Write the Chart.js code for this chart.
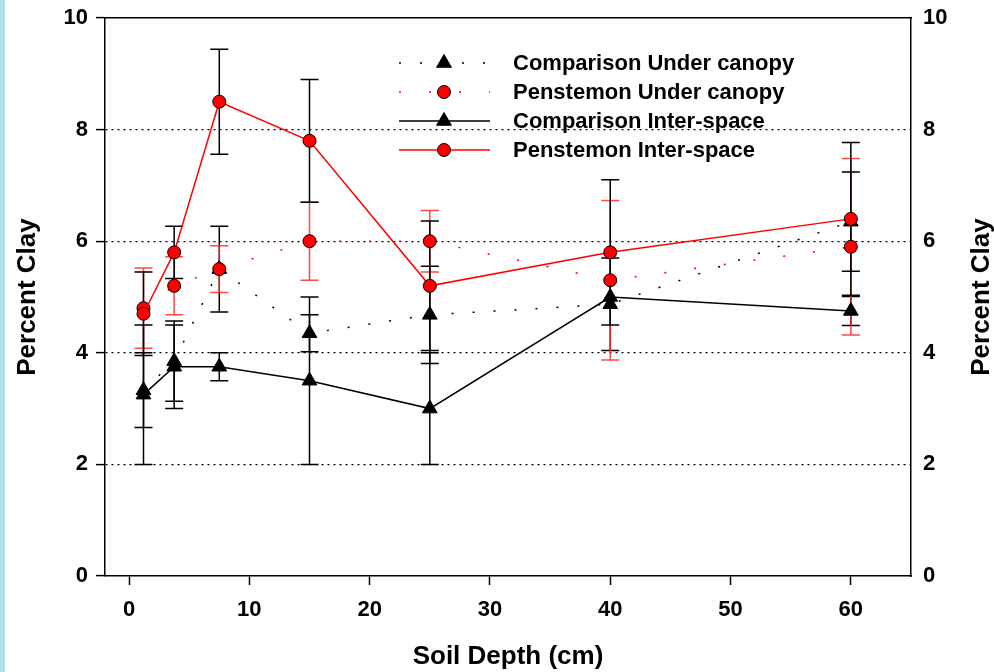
<!DOCTYPE html>
<html>
<head>
<meta charset="utf-8">
<script src="https://cdn.jsdelivr.net/npm/chart.js@4.4.1/dist/chart.umd.min.js"></script>
<style>
  html, body { margin: 0; padding: 0; background: #fff; }
  #wrap { position: relative; width: 994px; height: 672px; }
  #strip { position: absolute; left: 0; top: 0; width: 5px; height: 672px; background: #b5e0e6; }
</style>
</head>
<body>
<div id="wrap"><canvas id="myChart" width="994" height="672"></canvas><div id="strip"></div></div>
<script>
'use strict'

// soil depth of each sample (cm)
const depthCm = [1.2, 3.75, 7.5, 15, 25, 40, 60];

// mean percent clay and error (+/-) per series
const compUnder = [3.33, 3.85, 5.5, 4.35, 4.68, 4.87, 6.35];
const compUnderErr = [0.67, 0.72, 0.77, 0.33, 0.87, 0.83, 0.89];
const pensUnder = [4.8, 5.2, 5.5, 6.0, 6.0, 5.3, 5.9];
const pensUnderErr = [0.72, 0.52, 0.42, 0.7, 0.55, 1.43, 1.58];
const compInter = [3.25, 3.75, 3.75, 3.5, 3.0, 5.0, 4.75];
const compInterErr = [1.25, 0.75, 0.25, 1.5, 1.0, 0, 0.26];
const pensInter = [4.7, 5.8, 8.5, 7.8, 5.2, 5.8, 6.4];
const pensInterErr = [0.75, 0.47, 0.94, 1.1, 1.16, 1.3, 1.37];

const xTicks = [0, 10, 20, 30, 40, 50, 60];
const yTicks = [0, 2, 4, 6, 8, 10];

const FONT = "'Liberation Sans', Arial, sans-serif";

function toPoints(vals) {
  return depthCm.map((d, i) => ({ x: d, y: vals[i] }));
}

// error bars, drawn under the lines
const errorBars = {
  id: 'errorBars',
  beforeDatasetsDraw(chart) {
    const ctx = chart.ctx;
    const yScale = chart.scales.y;
    for (let i = chart.data.datasets.length - 1; i >= 0; i--) {
      const ds = chart.data.datasets[i];
      const meta = chart.getDatasetMeta(i);
      ctx.save();
      ctx.strokeStyle = ds.errorColor;
      ctx.lineWidth = 1.5;
      meta.data.forEach((pt, j) => {
        const e = ds.errors[j];
        if (!e) return;
        const v = ds.data[j].y;
        const top = yScale.getPixelForValue(v + e);
        const bot = yScale.getPixelForValue(v - e);
        ctx.beginPath();
        ctx.moveTo(pt.x, top); ctx.lineTo(pt.x, bot);
        ctx.moveTo(pt.x - 9, top); ctx.lineTo(pt.x + 9, top);
        ctx.moveTo(pt.x - 9, bot); ctx.lineTo(pt.x + 9, bot);
        ctx.stroke();
      });
      ctx.restore();
    }
  }
};

function drawMarker(ctx, ds, x, y) {
  const r = ds.pointRadius;
  ctx.save();
  ctx.fillStyle = ds.pointBackgroundColor;
  ctx.strokeStyle = ds.pointBorderColor;
  ctx.lineWidth = ds.pointBorderWidth;
  ctx.setLineDash([]);
  ctx.beginPath();
  if (ds.pointStyle === 'triangle') {
    for (let k = 0; k < 3; k++) {
      const a = k * 2 * Math.PI / 3;
      const px = x + Math.sin(a) * r, py = y - Math.cos(a) * r;
      if (k === 0) ctx.moveTo(px, py); else ctx.lineTo(px, py);
    }
    ctx.closePath();
  } else {
    ctx.arc(x, y, r, 0, Math.PI * 2);
  }
  ctx.fill();
  ctx.stroke();
  ctx.restore();
}

// legend box + right axis title
const extras = {
  id: 'extras',
  afterDraw(chart) {
    const ctx = chart.ctx;
    const order = [3, 1, 2, 0];
    order.forEach((idx, row) => {
      const ds = chart.data.datasets[idx];
      const y = 63 + row * 29;
      ctx.save();
      ctx.strokeStyle = ds.borderColor;
      ctx.lineWidth = ds.borderWidth;
      ctx.setLineDash(ds.borderDash || []);
      ctx.beginPath();
      ctx.moveTo(399, y);
      ctx.lineTo(490, y);
      ctx.stroke();
      ctx.restore();
      drawMarker(ctx, ds, 444, y);
      ctx.save();
      ctx.fillStyle = '#000';
      ctx.font = 'bold 22px ' + FONT;
      ctx.textBaseline = 'middle';
      ctx.fillText(ds.label, 513, y + 1);
      ctx.restore();
    });

    ctx.save();
    ctx.translate(982, (chart.chartArea.top + chart.chartArea.bottom) / 2);
    ctx.rotate(-Math.PI / 2);
    ctx.font = 'bold 26px ' + FONT;
    ctx.fillStyle = '#000';
    ctx.textAlign = 'center';
    ctx.textBaseline = 'middle';
    ctx.fillText('Percent Clay', 0, 0);
    ctx.restore();
  }
};

// y axes: fixed width and no extra room for the end labels
function fitY(width) {
  return (s) => {
    s.width = width;
    s.paddingTop = 0;
    s.paddingBottom = 0;
  };
}

const ctx = document.getElementById('myChart').getContext('2d');
const myChart = new Chart(ctx, {
  type: 'line',
  data: {
    datasets: [
      {
        label: 'Penstemon Inter-space',
        data: toPoints(pensInter),
        errors: pensInterErr,
        errorColor: '#000',
        borderColor: '#ff0000',
        borderWidth: 1.5,
        pointStyle: 'circle',
        pointRadius: 6.5,
        pointBackgroundColor: '#ff0000',
        pointBorderColor: '#000',
        pointBorderWidth: 1,
      },
      {
        label: 'Penstemon Under canopy',
        data: toPoints(pensUnder),
        errors: pensUnderErr,
        errorColor: 'rgba(255, 40, 40, 0.85)',
        borderColor: '#ff0000',
        borderWidth: 1.5,
        borderDash: [2, 28],
        pointStyle: 'circle',
        pointRadius: 6.5,
        pointBackgroundColor: '#ff0000',
        pointBorderColor: '#000',
        pointBorderWidth: 1,
      },
      {
        label: 'Comparison Inter-space',
        data: toPoints(compInter),
        errors: compInterErr,
        errorColor: '#000',
        borderColor: '#000',
        borderWidth: 1.5,
        pointStyle: 'triangle',
        pointRadius: 8.5,
        pointBackgroundColor: '#000',
        pointBorderColor: '#000',
        pointBorderWidth: 1,
      },
      {
        label: 'Comparison Under canopy',
        data: toPoints(compUnder),
        errors: compUnderErr,
        errorColor: '#000',
        borderColor: '#000',
        borderWidth: 1.5,
        borderDash: [2, 19],
        pointStyle: 'triangle',
        pointRadius: 8.5,
        pointBackgroundColor: '#000',
        pointBorderColor: '#000',
        pointBorderWidth: 1,
      },
    ],
  },
  options: {
    responsive: false,
    animation: false,
    layout: { padding: { top: 18, left: 0, right: 0, bottom: 0 } },
    elements: { line: { tension: 0, fill: false } },
    plugins: { legend: { display: false }, tooltip: { enabled: false } },
    scales: {
      x: {
        type: 'linear',
        position: 'bottom',
        min: -2,
        max: 65,
        afterBuildTicks: (s) => { s.ticks = xTicks.map(v => ({ value: v })); },
        afterFit: (s) => { s.height = 96; },
        grid: { drawOnChartArea: false, tickLength: 9, tickColor: '#000', tickWidth: 1.5 },
        border: { color: '#000', width: 1.5 },
        ticks: { color: '#000', padding: 12, font: { family: FONT, size: 22, weight: 'bold' } },
        title: {
          display: true,
          text: 'Soil Depth (cm)',
          color: '#000',
          padding: { top: 0, bottom: 0 },
          font: { family: FONT, size: 26, weight: 'bold' },
        },
      },
      xTop: {
        type: 'linear',
        position: 'top',
        min: -2,
        max: 65,
        afterFit: (s) => { s.height = 0; },
        ticks: { display: false },
        grid: { display: false, drawTicks: false },
        border: { display: true, color: '#000', width: 1.5 },
      },
      y: {
        type: 'linear',
        position: 'left',
        min: 0,
        max: 10,
        afterBuildTicks: (s) => { s.ticks = yTicks.map(v => ({ value: v })); },
        afterFit: fitY(105),
        grid: {
          color: (c) => (c.tick && (c.tick.value === 0 || c.tick.value === 10)) ? 'rgba(0,0,0,0)' : '#000',
          lineWidth: 1.2,
          tickLength: 9,
          tickColor: '#000',
          tickWidth: 1.5,
        },
        border: { color: '#000', width: 1.5, dash: [2, 4] },
        ticks: { color: '#000', padding: 8, font: { family: FONT, size: 22, weight: 'bold' } },
        title: {
          display: true,
          text: 'Percent Clay',
          color: '#000',
          padding: { top: 12, bottom: 0 },
          font: { family: FONT, size: 26, weight: 'bold' },
        },
      },
      yRight: {
        type: 'linear',
        position: 'right',
        min: 0,
        max: 10,
        afterBuildTicks: (s) => { s.ticks = yTicks.map(v => ({ value: v })); },
        afterFit: fitY(83),
        grid: { display: false, drawTicks: false },
        border: { display: true, color: '#000', width: 1.5 },
        ticks: { color: '#000', padding: 12, font: { family: FONT, size: 22, weight: 'bold' } },
      },
    },
  },
  plugins: [errorBars, extras],
});
</script>
</body>
</html>
